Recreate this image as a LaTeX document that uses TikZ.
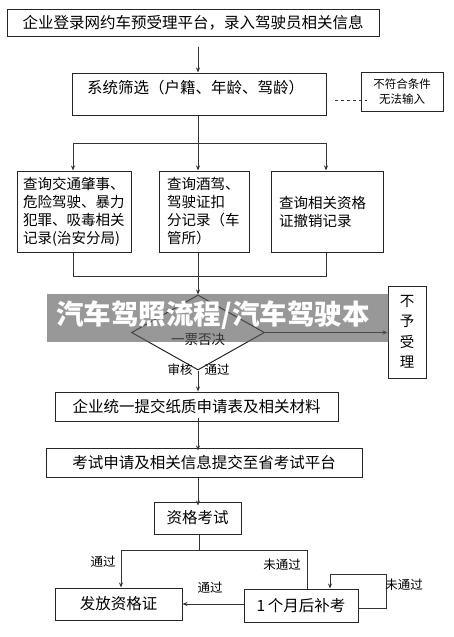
\documentclass[tikz,border=0pt]{standalone}
\usepackage{fontspec}
\setmainfont{Liberation Serif}
\newfontfamily\cjk{Noto Sans CJK SC}
\usetikzlibrary{arrows.meta,shapes.geometric}
\tikzset{
  box/.style={draw=black!85, line width=1pt, inner sep=0pt, font=\cjk\fontsize{15.5}{18}\selectfont},
  qbox/.style={box, font=\cjk\fontsize{14.5}{18}\selectfont, align=left},
  lbl/.style={inner sep=0pt, font=\cjk\fontsize{12.5}{14}\selectfont},
  conn/.style={draw=black!80, line width=0.9pt},
  arr/.style={conn, -{Stealth[length=5pt,width=4pt]}},
}
\begin{document}
\begin{tikzpicture}[x=1pt,y=-1pt]
\useasboundingbox[fill=white] (0,0) rectangle (454,637);
% boxes
\node[box, minimum width=372, minimum height=27] (b1) at (193,22.5) {企业登录网约车预受理平台，录入驾驶员相关信息};
\node[box, minimum width=254, minimum height=42] (b2) at (199,94) {};
\node[inner sep=0pt, anchor=west, font=\cjk\fontsize{15.5}{18}\selectfont] (b2t) at (87,88) {系统筛选（户籍、年龄、驾龄）};
\node[box, minimum width=82, minimum height=39, align=center, font=\cjk\fontsize{11.5}{15}\selectfont] (nb) at (402,91.5) {不符合条件\\无法输入};
\node[qbox, minimum width=114, minimum height=81, text width=101.5] (q1) at (74,211.5) {查询交通肇事、\\危险驾驶、暴力\\犯罪、吸毒相关\\记录(治安分局)};
\node[qbox, minimum width=90, minimum height=81, text width=74] (q2) at (204,211.5) {查询酒驾、\\驾驶证扣\\分记录（车\\管所）};
\node[qbox, minimum width=112, minimum height=81, text width=96] (q3) at (327,211.5) {查询相关资格\\证撤销记录};
\node[draw=black!85, line width=1pt, shape=diamond, inner sep=0pt, minimum width=133, minimum height=75] (dia) at (198,332.5) {};
\node[inner sep=0pt, font=\cjk\fontsize{13.5}{15}\selectfont] (diat) at (198,339) {一票否决};
\node[box, minimum width=38, minimum height=92, align=center, font=\cjk\fontsize{14.5}{20.5}\selectfont] (np) at (407,332) {不\\予\\受\\理};
\node[box, minimum width=283, minimum height=29] (s1) at (196.5,406.5) {企业统一提交纸质申请表及相关材料};
\node[box, minimum width=316, minimum height=29] (s2) at (204,462.5) {考试申请及相关信息提交至省考试平台};
\node[box, minimum width=87, minimum height=32] (s3) at (197.5,518) {资格考试};
\node[box, minimum width=127, minimum height=32] (f1) at (118.5,604) {发放资格证};
\node[box, minimum width=114, minimum height=33] (f2) at (301,605.5) {1\,个月后补考};
% junction coordinates
\coordinate (uL) at (73,143);
\coordinate (uM) at (198,143);
\coordinate (uR) at (326,143);
\coordinate (dL) at (73,276);
\coordinate (dM) at (198,276);
\coordinate (dR) at (326,276);
\coordinate (eM) at (199,550);
\coordinate (eL) at (121,550);
\coordinate (eR) at (307,550);
\coordinate (lp1) at (386,608);
\coordinate (lp2) at (386,574);
\coordinate (lp3) at (330,574);
\coordinate (dsh) at (335,100);
\coordinate (dshe) at (367,100);
% connectors
\draw[arr] ([yshift=-10pt]b1.south -| uM) -- (uM |- b2.north);
\draw[conn, dashed] (dsh) -- (dshe);
\draw[conn] (uM |- b2.south) -- (uM);
\draw[conn] (uL) -- (uR);
\draw[arr] (uL) -- (uL |- q1.north);
\draw[arr] (uM) -- (uM |- q2.north);
\draw[arr] (uR) -- (uR |- q3.north);
\draw[conn] (dL |- q1.south) -- (dL) -- (dR) -- (dR |- q3.south);
\draw[conn] (dM |- q2.south) -- (dM);
\draw[arr] (dM) -- (dia.north);
\draw[arr] (dia.east) -- (np.west |- dia.east);
\draw[arr] (dia.south) -- (dia.south |- s1.north);
\draw[arr] ([yshift=4pt]s1.south -| dia.south) -- ([yshift=-3pt]dia.south |- s2.north);
\draw[arr] (dia.south |- s2.south) -- ([yshift=-4pt]dia.south |- s3.north);
\draw[conn] (eM |- s3.south) -- (eM);
\draw[conn] (eL) -- (eR) -- (eR |- f2.north);
\draw[arr] (eL) -- (eL |- f1.north);
\draw[arr] (f2.west |- f1.east) -- (f1.east);
\draw[arr] (f2.east |- lp1) -- (lp1) -- (lp2) -- (lp3) -- (lp3 |- f2.north);
% labels
\node[lbl] (l1) at (180,370) {审核};
\node[lbl] (l2) at (217,370) {通过};
\node[lbl] (l3) at (103,562) {通过};
\node[lbl] (l4) at (282,565) {未通过};
\node[lbl] (l5) at (210,588) {通过};
\node[lbl] (l6) at (404,585) {未通过};
% watermark band
\fill[black!65, fill opacity=0.62] (47,294) rectangle (389,342);
\node[inner sep=0pt, text=white, font=\cjk\bfseries\fontsize{27.5}{30}\selectfont] (wm) at (213,315) {汽车驾照流程/汽车驾驶本};
\end{tikzpicture}
\end{document}
